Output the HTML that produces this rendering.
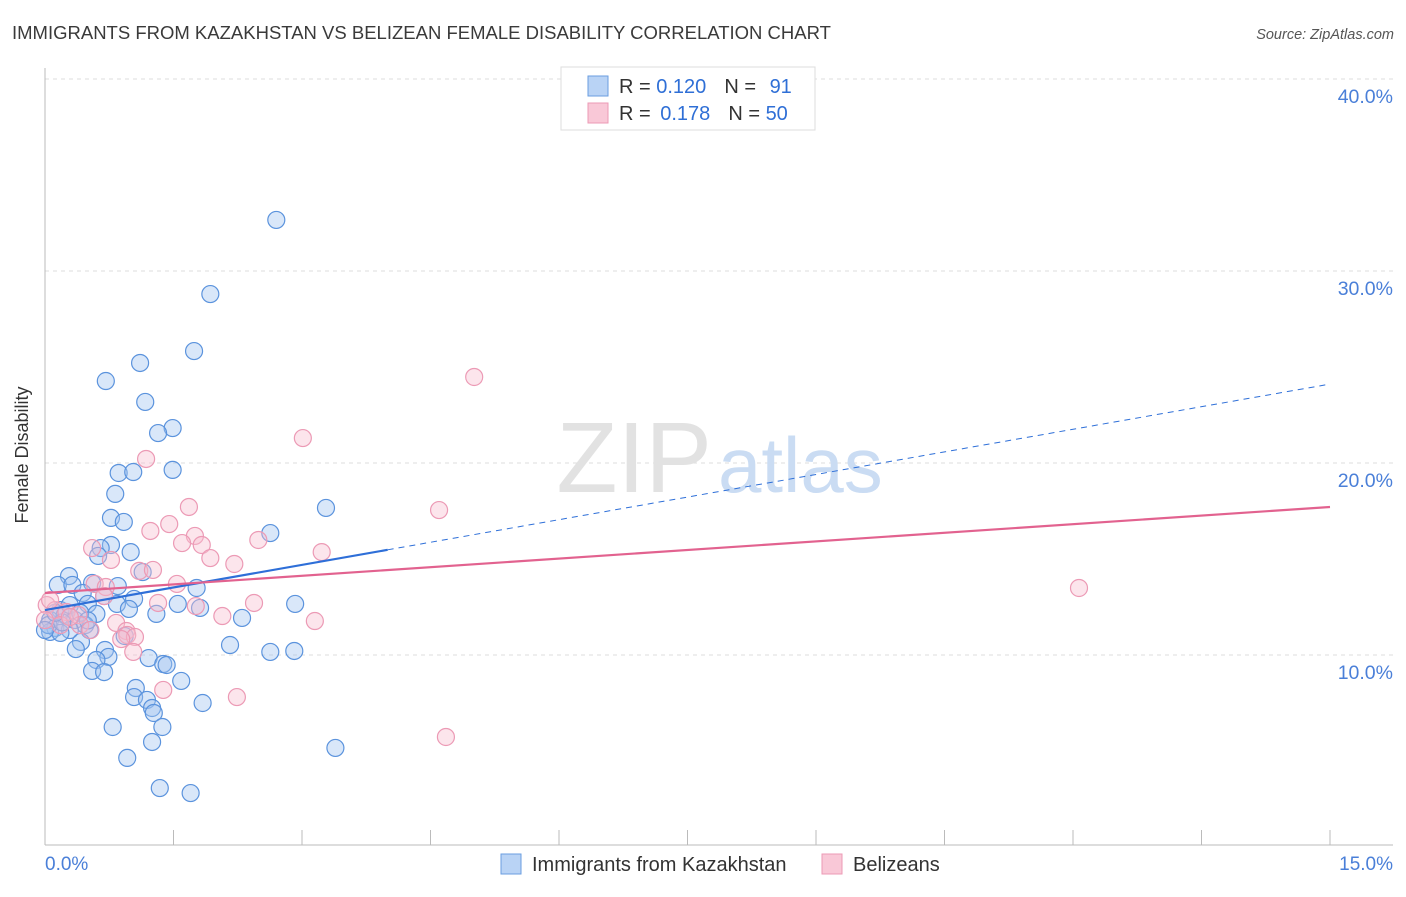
<!DOCTYPE html>
<html><head><meta charset="utf-8"><style>
body{margin:0;background:#fff;font-family:"Liberation Sans",sans-serif}
svg text{font-family:"Liberation Sans",sans-serif}
</style></head><body>
<svg id="chart" width="1406" height="892" xmlns="http://www.w3.org/2000/svg">
<text x="12" y="39" font-size="18.5" fill="#3a3a3a">IMMIGRANTS FROM KAZAKHSTAN VS BELIZEAN FEMALE DISABILITY CORRELATION CHART</text>
<text x="1394" y="39" font-size="14.5" fill="#555" font-style="italic" text-anchor="end">Source: ZipAtlas.com</text>
<g id="grid"></g>
<line x1="45" y1="68" x2="45" y2="845" stroke="#bbb"/>
<line x1="45" y1="845" x2="1393" y2="845" stroke="#bbb"/>
<text x="712" y="492" font-size="100" fill="#e2e2e2" text-anchor="end" font-family="Liberation Serif">ZIP</text>
<text x="718" y="492" font-size="78" fill="#cadcf3">atlas</text>
<text x="28" y="455" font-size="18" fill="#333" text-anchor="middle" transform="rotate(-90 28 455)">Female Disability</text>
<text x="45" y="870" font-size="19" fill="#4a7fd8">0.0%</text>
<text x="1393" y="870" font-size="19" fill="#4a7fd8" text-anchor="end">15.0%</text>
<g id="points"></g>
<g id="lines"></g>
<g>
<rect x="561" y="67" width="254" height="63" fill="#fff" stroke="#ddd"/>
<rect x="588" y="76" width="20" height="20" fill="#b9d3f5" stroke="#6a9ee0"/>
<rect x="588" y="103" width="20" height="20" fill="#f9c8d7" stroke="#ec9ab5"/>
<text x="619" y="93" font-size="20" fill="#333">R = <tspan fill="#2f6fd6">0.120</tspan><tspan dx="18">N = </tspan><tspan fill="#2f6fd6" dx="8">91</tspan></text>
<text x="619" y="120" font-size="20" fill="#333">R = <tspan fill="#2f6fd6" dx="4">0.178</tspan><tspan dx="18">N = </tspan><tspan fill="#2f6fd6">50</tspan></text>
</g>
<g>
<rect x="501" y="854" width="20" height="20" fill="#b9d3f5" stroke="#6a9ee0"/>
<text x="532" y="871" font-size="20" fill="#333">Immigrants from Kazakhstan</text>
<rect x="822" y="854" width="20" height="20" fill="#f9c8d7" stroke="#ec9ab5"/>
<text x="853" y="871" font-size="20" fill="#333">Belizeans</text>
</g>
</svg>
<script>
const yTicks=[10,20,30,40];
const xTicks=[0,1.5,3,4.5,6,7.5,9,10.5,12,13.5,15];
const blueX=[2.70,1.93,1.74,1.11,0.71,1.17,1.49,1.32,1.49,0.86,1.03,0.82,0.77,0.92,3.28,2.63,0.77,0.65,0.62,1.00,1.14,0.28,0.55,0.15,0.32,0.85,1.77,0.44,0.69,1.04,2.92,0.50,0.84,1.55,0.98,1.30,1.81,0.18,0.60,2.30,0.06,0.23,0.35,0.12,0.47,0.29,0.06,0.18,0.52,0.93,2.16,0.42,0.36,0.70,2.63,2.91,0.74,0.60,1.21,1.38,1.42,0.55,0.69,1.59,1.06,1.04,1.19,1.84,1.25,1.27,0.79,1.37,1.25,3.39,0.96,1.34,1.70,0.04,0.20,0.12,0.00,0.29,0.41,0.50];
const blueY=[32.66,28.80,25.83,25.21,24.27,23.18,21.82,21.56,19.64,19.48,19.53,18.39,17.14,16.93,17.66,16.35,15.73,15.57,15.16,15.36,14.32,14.11,13.75,13.65,13.65,13.59,13.49,13.23,13.07,12.92,12.66,12.66,12.66,12.66,12.40,12.14,12.45,12.34,12.14,11.93,11.82,12.08,11.82,11.41,11.56,11.30,11.20,11.15,11.30,10.99,10.52,10.68,10.31,10.26,10.16,10.21,9.90,9.74,9.84,9.53,9.48,9.17,9.11,8.65,8.28,7.81,7.66,7.50,7.24,6.98,6.25,6.25,5.47,5.16,4.64,3.07,2.81,11.56,11.70,12.20,11.30,12.60,12.20,11.80];
const pinkX=[5.01,3.01,1.18,1.68,4.60,1.45,1.23,1.75,1.60,1.83,2.49,0.55,3.23,0.77,1.93,2.21,1.10,1.26,1.54,0.58,0.71,12.07,0.69,1.32,2.44,1.76,0.02,0.12,0.25,0.39,0.00,2.07,0.83,3.15,0.18,0.41,0.95,0.96,1.05,0.89,1.03,1.38,2.24,4.68,0.06,0.29,0.53];
const pinkY=[24.48,21.30,20.21,17.71,17.55,16.82,16.46,16.20,15.83,15.73,15.99,15.57,15.36,14.95,15.05,14.74,14.38,14.43,13.70,13.70,13.54,13.49,13.07,12.71,12.71,12.55,12.60,12.34,12.24,12.08,11.82,12.03,11.67,11.77,11.56,11.56,11.25,11.04,10.94,10.83,10.16,8.18,7.81,5.73,12.86,11.98,11.30];
const blueTrend=[12.34,24.11];
const pinkTrend=[13.23,17.71];
const X=v=>45+v*(1285/15);
const Y=v=>847-v*19.2;
const NS='http://www.w3.org/2000/svg';
function mk(t,a,p){const e=document.createElementNS(NS,t);for(const k in a)e.setAttribute(k,a[k]);p.appendChild(e);return e;}
const grid=document.getElementById('grid');
yTicks.forEach(t=>{
  const l=mk('line',{x1:45,x2:1393,y1:Y(t),y2:Y(t),stroke:'#ddd','stroke-dasharray':'4,4'},grid);
  
  
  const tx=mk('text',{x:1393,y:Y(t)+24,'font-size':19.5,fill:'#4a7fd8','text-anchor':'end'},grid);
  tx.textContent=t.toFixed(1)+'%';
  
  
});
xTicks.forEach(t=>{
  const l=mk('line',{x1:X(t),x2:X(t),y1:830,y2:845,stroke:'#bbb'},grid);
  
  
});
const pts=document.getElementById('points');
blueX.forEach((v,i)=>{
  const c=mk('circle',{cx:X(v),cy:Y(blueY[i]),r:8.5,fill:'rgba(160,196,240,0.4)',stroke:'#5b93dd','stroke-width':1.2},pts);
  
  
});
pinkX.forEach((v,i)=>{
  const c=mk('circle',{cx:X(v),cy:Y(pinkY[i]),r:8.5,fill:'rgba(248,190,208,0.4)',stroke:'#ec9ab5','stroke-width':1.2},pts);
  
  
});
const ln=document.getElementById('lines');
const bAt=x=>blueTrend[0]+(blueTrend[1]-blueTrend[0])*x/15;
let l1=mk('line',{x1:X(0),y1:Y(bAt(0)),x2:X(4),y2:Y(bAt(4)),stroke:'#2e6fd8','stroke-width':2.2},ln);


let l2=mk('line',{x1:X(4),y1:Y(bAt(4)),x2:X(15),y2:Y(bAt(15)),stroke:'#2e6fd8','stroke-width':1,'stroke-dasharray':'6,5'},ln);


let l3=mk('line',{x1:X(0),y1:Y(pinkTrend[0]),x2:X(15),y2:Y(pinkTrend[1]),stroke:'#e2628f','stroke-width':2.2},ln);


</script>
</body></html>
